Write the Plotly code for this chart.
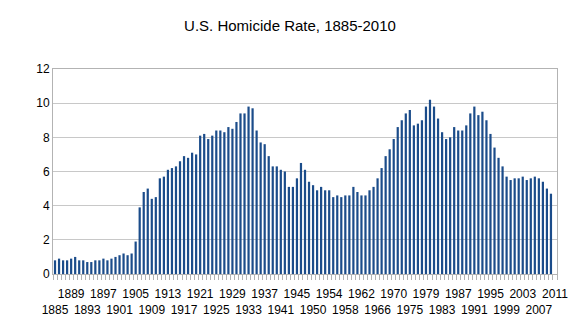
import plotly.graph_objects as go

# Category years (two years absent from the source series)
years = list(range(1885, 1949)) + list(range(1950, 1974)) + list(range(1975, 2012))
year_labels = [str(y) for y in years]

# Homicide rate per 100,000; last category has no data
rates = [
    0.8, 0.9, 0.8, 0.8, 0.9, 1.0, 0.8, 0.8, 0.7, 0.7,
    0.8, 0.8, 0.9, 0.8, 0.9, 1.0, 1.1, 1.2, 1.1, 1.2,
    1.9, 3.9, 4.8, 5.0, 4.4, 4.5, 5.6, 5.7, 6.1, 6.2,
    6.3, 6.6, 6.9, 6.8, 7.1, 7.0, 8.1, 8.2, 7.9, 8.1,
    8.4, 8.4, 8.3, 8.6, 8.5, 8.9, 9.4, 9.4, 9.8, 9.7,
    8.4, 7.7, 7.6, 6.9, 6.3, 6.3, 6.1, 6.0, 5.1, 5.1,
    5.6, 6.5, 6.1, 5.4, 5.2, 4.9, 5.1, 4.9, 4.9, 4.5,
    4.6, 4.5, 4.6, 4.6, 5.1, 4.8, 4.6, 4.6, 4.9, 5.1,
    5.6, 6.2, 6.9, 7.3, 7.9, 8.6, 9.0, 9.4, 9.6, 8.7,
    8.8, 9.0, 9.8, 10.2, 9.8, 9.1, 8.3, 7.9, 8.0, 8.6,
    8.4, 8.4, 8.7, 9.4, 9.8, 9.3, 9.5, 9.0, 8.2, 7.4,
    6.8, 6.3, 5.7, 5.5, 5.6, 5.6, 5.7, 5.5, 5.6, 5.7,
    5.6, 5.4, 5.0, 4.7, None,
]

y_ticks = [0, 2, 4, 6, 8, 10, 12]

# Labels every 4th category, staggered in two rows
tick_text = []
for i, lab in enumerate(year_labels):
    if i % 4 == 0:
        k = i // 4
        tick_text.append(lab if k % 2 == 1 else "<br>" + lab)
    else:
        tick_text.append("")

fig = go.Figure()
fig.add_trace(go.Bar(
    x=year_labels, y=rates,
    marker=dict(color="#1b4c8a", line=dict(width=0)),
))

fig.update_layout(
    width=580, height=329,
    margin=dict(l=53, r=21, t=69, b=52),
    paper_bgcolor="white", plot_bgcolor="white",
    font=dict(family="Liberation Sans, Arial, sans-serif", color="#000000", size=12),
    title=dict(text="U.S. Homicide Rate, 1885-2010", x=0.5, xanchor="center",
               y=0.922, yanchor="middle", font=dict(size=15, color="#000000")),
    bargap=0.45,
    showlegend=False,
)

fig.update_xaxes(
    type="category",
    tickmode="array", tickvals=year_labels, ticktext=tick_text,
    tickson="boundaries", ticks="outside", ticklen=5, tickcolor="#b3b3b3",
    ticklabelstandoff=9,
    showgrid=False, showline=True, linecolor="#b3b3b3", linewidth=1, mirror=True,
    tickangle=0, tickfont=dict(size=12),
)
fig.update_yaxes(
    range=[0, 12], tickvals=y_ticks, ticktext=[str(v) for v in y_ticks],
    showgrid=True, gridcolor="#c8c8c8", gridwidth=1,
    showline=True, linecolor="#b3b3b3", mirror=True, zeroline=False,
    ticks="", tickfont=dict(size=12),
)

fig.write_html("out.html")
